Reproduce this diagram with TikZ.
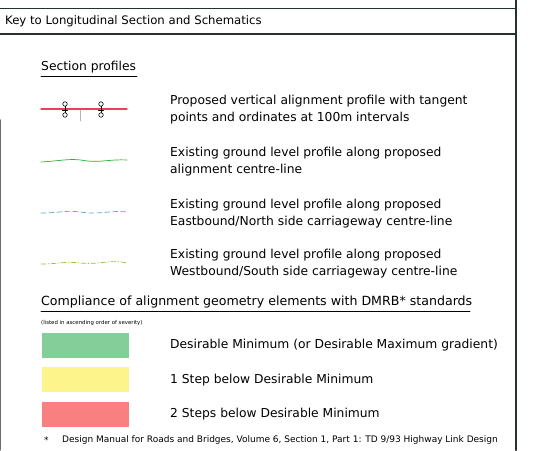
\documentclass[tikz,border=0pt]{standalone}
\usepackage{fontspec}
\setmainfont{DejaVu Sans}
\usepackage{tikz}
\definecolor{okgreen}{RGB}{132,206,154}
\definecolor{oneyellow}{RGB}{253,245,140}
\definecolor{twored}{RGB}{249,128,128}
\definecolor{eastblue}{RGB}{90,170,195}
\definecolor{westgreen}{RGB}{140,196,64}
\definecolor{propred}{RGB}{240,60,90}
\definecolor{framegrey}{RGB}{40,48,46}
\tikzset{
  keytext/.style = {anchor=west, align=left, inner sep=0pt,
    font=\fontsize{12.3}{17}\selectfont},
  heading/.style = {anchor=west, inner sep=0pt,
    font=\fontsize{12.3}{14}\selectfont},
  smalltext/.style = {anchor=west, inner sep=0pt,
    font=\fontsize{5.4}{7}\selectfont},
  foottext/.style = {anchor=west, inner sep=0pt,
    font=\fontsize{9}{10}\selectfont},
  swatch/.style = {draw=none, minimum width=87pt, minimum height=25pt,
    inner sep=0pt, anchor=north west},% colour box of a compliance class
  tp/.style = {circle, draw=black, fill=white, inner sep=0pt,
    minimum size=4.5pt, line width=0.6pt}% tangent point circle
}

\begin{document}
\begin{tikzpicture}[x=1pt,y=-1pt,line cap=round]
  \useasboundingbox (0,0) rectangle (541,450);
  % frame
  \draw[framegrey, line width=1.3pt] (0,8.5) -- (516,8.5);
  \draw[framegrey, line width=1.3pt] (0,34) -- (516,34);
  \draw[framegrey, line width=2.2pt] (516,0) -- (516,450);
  \draw[framegrey!70, line width=1.2pt] (0.6,120) -- (0.6,450);
  \node [heading, font=\fontsize{11.7}{14}\selectfont] (title) at (5,21.5) {Key to Longitudinal Section and Schematics};

  % section profiles
  \node [heading] (sp) at (41,67) {Section profiles};
  \draw[line width=0.6pt] (sp.south west) ++(0,3) -- ++(96,0);

  % proposed alignment
  \draw[propred, line width=1.1pt] (41,109) -- (127,109);
  \draw[gray!60, line width=0.6pt] (80,110) -- (80,121);
  \foreach \x in {65,101} {
    \draw[line width=0.6pt] (\x,104) -- (\x,115);
    \draw[line width=0.6pt] (\x-2.5,110) -- (\x+2.5,110);
    \node [tp] at (\x,104) {};
    \node [tp] at (\x,115) {};
  }
  \node [keytext] (p1) at (170,110) {Proposed vertical alignment profile with tangent\\points and ordinates at 100m intervals};

  % existing ground, centre-line
  \draw[green!60!black!80, line width=0.7pt] (41,162) .. controls (60,161) and (70,158) .. (84,160.5) .. controls (100,163) and (110,159) .. (127,160);
  \node [keytext] (p2) at (170,162) {Existing ground level profile along proposed\\alignment centre-line};

  % eastbound
  \draw[eastblue, line width=0.7pt, dash pattern=on 5pt off 3pt] (41,213) .. controls (60,213) and (65,210) .. (80,212) .. controls (100,215) and (110,210) .. (127,212);
  \node [keytext] (p3) at (170,214) {Existing ground level profile along proposed\\Eastbound/North side carriageway centre-line};

  % westbound
  \draw[westgreen, line width=0.7pt, dash pattern=on 5pt off 2pt on 1pt off 2pt] (41,264) .. controls (60,264) and (65,261) .. (80,263) .. controls (100,265) and (110,259) .. (127,263);
  \node [keytext] (p4) at (170,264) {Existing ground level profile along proposed\\Westbound/South side carriageway centre-line};

  % compliance classes
  \node [heading, font=\fontsize{12.6}{15}\selectfont] (cp) at (41,302) {Compliance of alignment geometry elements with DMRB* standards};
  \draw[line width=0.6pt] (41,311.5) -- (470,311.5);
  \node [smalltext] (ord) at (41,323) {(listed in ascending order of severity)};

  \node [swatch, fill=okgreen] (c1) at (42,333) {};
  \node [swatch, fill=oneyellow] (c2) at (42,367) {};
  \node [swatch, fill=twored] (c3) at (42,402) {};
  \node [keytext] (d1) at (170,345.5) {Desirable Minimum (or Desirable Maximum gradient)};
  \node [keytext] (d2) at (170,380) {1 Step below Desirable Minimum};
  \node [keytext] (d3) at (170,414.5) {2 Steps below Desirable Minimum};

  % footnote
  \node [foottext] (star) at (44,440) {*};
  \node [foottext] (fn) at (62,440) {Design Manual for Roads and Bridges, Volume 6, Section 1, Part 1: TD 9/93 Highway Link Design};
\end{tikzpicture}
\end{document}
